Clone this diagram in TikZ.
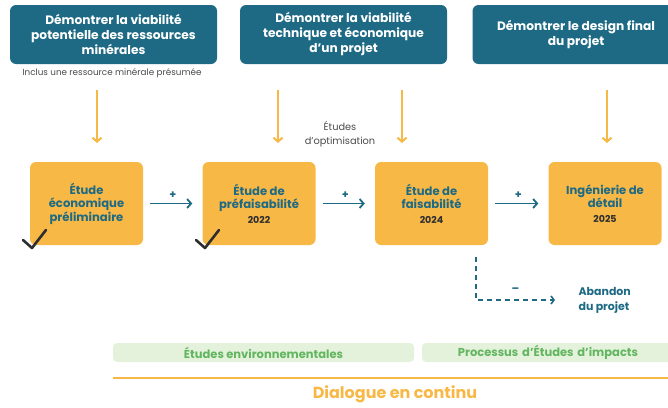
\documentclass[tikz,border=0pt]{standalone}
\usepackage{fontspec}
\setmainfont{Poppins}
\usepackage{tikz}
\usetikzlibrary{arrows.meta}

\definecolor{petrol}{HTML}{1E6A84}
\definecolor{ambre}{HTML}{F8B846}
\definecolor{vertpale}{HTML}{E4F2DC}
\definecolor{vert}{HTML}{62B660}
\definecolor{encre}{HTML}{2E2E2E}
\definecolor{gris}{HTML}{4A4A4A}

\tikzset{
	but/.style={fill=petrol,rounded corners=6pt,text=white,font=\bfseries\fontsize{12.2}{15}\selectfont,align=center,minimum width=207pt,minimum height=59pt,inner sep=0pt},
	etude/.style={fill=ambre,rounded corners=6pt,text=petrol,font=\bfseries\fontsize{11.6}{13.6}\selectfont,align=center,minimum width=113pt,minimum height=83pt,inner sep=0pt},
	annee/.style={font=\bfseries\fontsize{9.5}{10}\selectfont,text=encre},
	bande/.style={fill=vertpale,rounded corners=4pt,text=vert,font=\bfseries\fontsize{11.5}{12}\selectfont,minimum height=19pt,inner sep=0pt},
	signe/.style={above=1pt,font=\bfseries\fontsize{11}{11}\selectfont,text=petrol},
	fleche/.style={line width=2pt,ambre,-{Straight Barb[length=4pt,width=9pt,line width=2pt]}},
	suite/.style={line width=1.8pt,petrol,shorten <=7pt,shorten >=10pt,-{Straight Barb[length=4pt,width=9pt,line width=1.8pt]}},
	coche/.style={line width=2.6pt,encre,line cap=round,line join=round}
}

\begin{document}
\begin{tikzpicture}[x=1pt,y=-1pt]
		\useasboundingbox (0,0) rectangle (668,407);

		% objectifs
		\node[but] (B1) at (113.5,34.5) {Démontrer la viabilité\\potentielle des ressources\\minérales};
		\node[but] (B2) at (343.5,34.5) {Démontrer la viabilité\\technique et économique\\d'un projet};
		\node[but] (B3) at (576,34.5) {Démontrer le design final\\du projet};
		\node[font=\fontsize{8.8}{10}\selectfont,text=gris] (inclus) at (112,73) {Inclus une ressource minérale présumée};

		% etudes
		\node[etude] (E1) at (86.5,203.5) {Étude\\économique\\préliminaire};
		\node[etude] (E2) at (259,203.5) {Étude de\\préfaisabilité\\[1pt]{\normalfont\bfseries\fontsize{9.5}{10}\selectfont\color{encre}2022}};
		\node[etude] (E3) at (431.5,203.5) {Étude de\\faisabilité\\[1pt]{\normalfont\bfseries\fontsize{9.5}{10}\selectfont\color{encre}2024}};
		\node[etude] (E4) at (605,203.5) {Ingénierie de\\détail\\[1pt]{\normalfont\bfseries\fontsize{9.5}{10}\selectfont\color{encre}2025}};
		\node[font=\fontsize{9.8}{14}\selectfont,text=gris,align=center] (optim) at (340,134) {Études\\d'optimisation};

		% fleches vers les etudes
		\foreach \x/\n in {97/1,278/2,402/3,607/4}
		{
			\coordinate (H\n) at (\x,90);
			\coordinate (T\n) at (\x,143);
			\draw[fleche] (H\n) -- (T\n);
		}

		% enchainement
		\draw[suite] (E1.east) -- node[signe]{+} (E2.west);
		\draw[suite] (E2.east) -- node[signe]{+} (E3.west);
		\draw[suite] (E3.east) -- node[signe]{+} (E4.west);

		% abandon
		\node[font=\bfseries\fontsize{11}{15}\selectfont,text=petrol,align=left,anchor=west] (abandon) at (575,300) {Abandon\\du projet};
		\coordinate (coin) at (476,300);
		\draw[line width=1.6pt,petrol,dash pattern=on 5pt off 4pt,-{Straight Barb[length=3pt,width=8pt,line width=1.6pt]}] (476,257) -- (coin) -- node[signe,above=2pt]{–} ([xshift=-20pt]abandon.west);

		% coches
		\draw[coche] (23,240) -- (32,248) -- (46,230);
		\draw[coche] (196,240) -- (205,248) -- (219,230);

		% bandes
		\node[bande,minimum width=301pt] (env) at (263.5,352.5) {Études environnementales};
		\node[bande,minimum width=252pt,text width=252pt,align=center] (impacts) at (548,352.5) {Processus d’Études d’impacts};
		\draw[line width=1.5pt,ambre] (113,378) -- (680,378);
		\node[font=\bfseries\fontsize{16}{18}\selectfont,text=ambre] (dialogue) at (395,394) {Dialogue en continu};
	    \end{tikzpicture}
\end{document}
